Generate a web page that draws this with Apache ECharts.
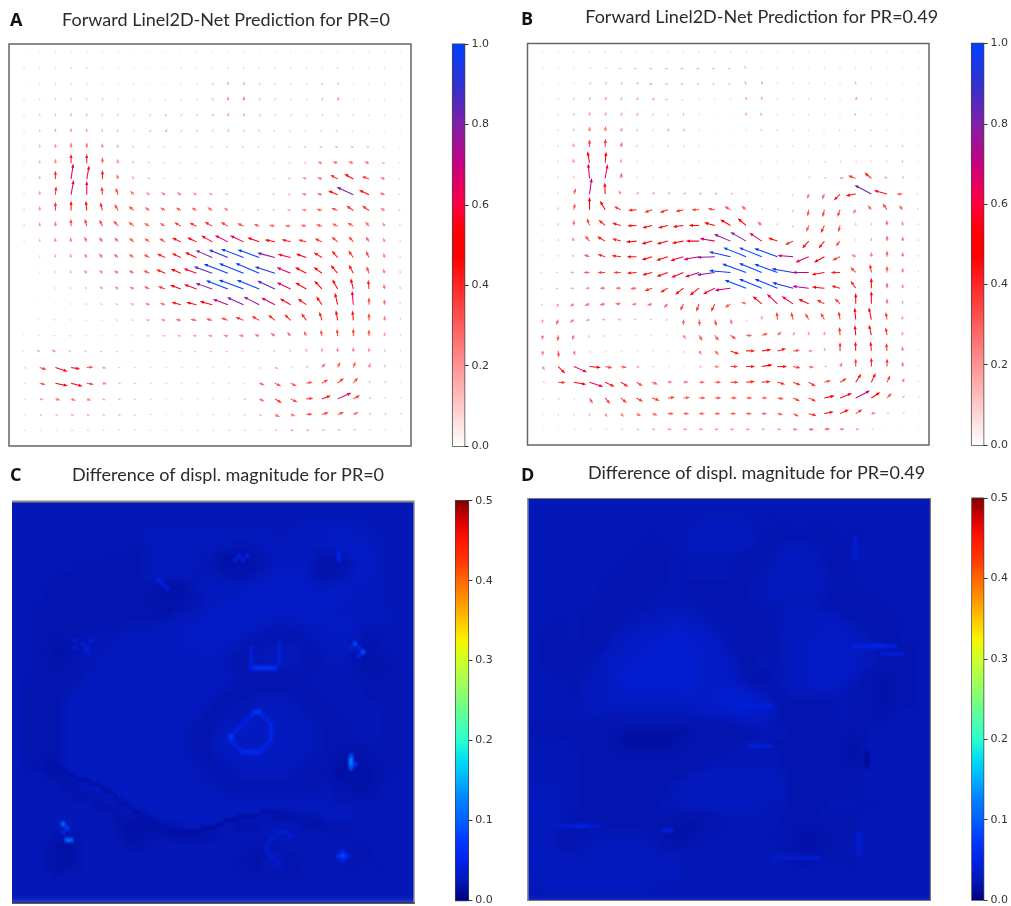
<!DOCTYPE html>
<html><head><meta charset="utf-8">
<style>html,body{margin:0;padding:0;background:#fff}#c{width:1011px;height:906px}</style>
<script src="https://cdn.jsdelivr.net/npm/echarts@6/dist/echarts.min.js"></script>
</head><body><div id="c"></div>
<script>
// ---------- data: arrow magnitude (percent of colour scale) and direction (degrees, 0 = right, 90 = up), 25 x 25 grid
const magA=[
[1,1,2,2,2,2,1,1,1,1,1,1,1,1,1,1,1,1,1,1,1,1,1,1,1],
[2,2,2,3,3,2,2,1,1,1,2,2,2,3,3,2,2,2,2,2,3,2,2,2,1],
[1,2,3,3,3,2,2,2,1,1,2,2,4,8,8,4,3,3,3,4,6,2,2,2,1],
[2,3,4,5,4,4,3,2,2,2,2,3,5,12,13,5,4,3,3,5,10,3,2,2,1],
[2,4,5,7,6,5,4,3,4,6,4,4,6,9,8,5,4,3,3,4,4,3,2,2,1],
[2,5,8,10,9,7,5,3,5,8,4,4,4,6,5,4,3,3,3,3,4,3,2,1,1],
[2,6,11,16,17,13,8,4,3,3,2,3,3,3,4,3,3,4,5,6,7,7,6,3,1],
[2,7,13,40,40,22,12,6,4,3,2,2,2,2,2,2,3,4,5,14,18,18,16,7,2],
[2,8,35,68,60,38,16,8,5,3,2,2,2,2,2,2,3,6,12,16,35,45,30,15,3],
[2,10,35,65,60,33,28,18,12,14,14,12,10,6,3,3,5,6,14,17,45,80,48,18,3],
[3,12,35,42,42,35,28,25,20,20,20,20,20,15,3,4,5,8,14,20,25,35,35,15,4],
[3,10,15,28,30,28,28,26,22,22,30,32,36,33,26,20,20,20,20,22,22,25,20,12,3],
[2,6,12,14,20,20,20,22,22,26,42,45,55,64,65,55,45,40,35,32,32,28,22,12,3],
[1,3,8,10,14,18,20,22,25,38,43,55,79,90,105,100,80,58,48,42,38,35,28,14,4],
[1,2,4,7,12,14,16,20,26,42,48,60,85,112,115,112,92,66,55,45,47,41,28,15,5],
[1,1,2,3,5,10,12,15,22,30,50,58,76,102,115,105,85,66,55,49,48,48,39,16,5],
[1,1,1,2,3,4,6,9,14,18,42,46,56,70,79,76,67,54,45,43,53,60,28,18,4],
[1,1,2,2,2,2,3,4,8,12,18,22,24,28,36,36,36,36,36,38,44,43,28,15,4],
[1,2,3,3,2,2,2,2,5,6,8,10,12,14,15,16,18,18,19,24,28,30,25,10,3],
[2,8,12,6,5,5,3,2,2,3,4,4,5,5,4,3,4,4,8,10,13,14,12,5,2],
[3,28,56,40,25,10,4,3,2,2,2,2,2,2,2,3,8,3,5,18,22,22,14,6,3],
[2,22,55,52,28,14,5,5,3,3,2,2,2,2,3,20,26,26,25,28,33,28,5,4,2],
[2,10,16,16,14,8,5,4,3,3,2,2,2,2,4,20,32,30,28,41,65,30,6,3,2],
[2,5,6,7,7,6,5,4,3,2,2,2,3,2,3,6,18,16,24,28,26,20,6,5,3],
[2,2,2,3,3,3,3,3,2,2,2,2,2,3,3,3,5,8,8,7,6,5,3,2,1]];
const angA=[
[90,90,90,90,90,90,90,90,90,90,90,90,90,90,90,90,90,90,90,90,90,90,90,90,90],
[90,90,90,90,90,90,90,90,90,90,90,90,90,90,90,90,90,90,90,90,90,90,90,90,90],
[90,90,90,90,90,90,90,90,90,90,90,70,70,85,70,70,70,70,70,70,70,70,70,90,90],
[90,90,90,90,90,90,90,90,70,70,70,70,70,85,80,70,70,70,70,70,70,70,90,90,90],
[90,90,90,90,95,100,100,80,50,60,60,60,60,75,70,60,60,60,60,70,70,90,90,90,90],
[90,90,90,90,95,100,110,80,45,50,60,60,70,70,60,100,120,120,130,130,140,140,140,90,90],
[90,90,90,90,90,95,105,120,130,140,140,140,140,140,140,140,140,150,150,150,150,150,150,150,150],
[90,90,90,90,90,90,100,120,135,140,150,150,150,150,150,150,150,150,150,160,160,160,160,160,150],
[90,90,90,82,80,90,105,120,135,145,150,150,150,150,150,150,150,160,155,160,150,150,160,160,160],
[90,90,85,80,90,95,110,130,145,150,150,150,150,150,150,150,160,165,165,165,157,155,155,160,160],
[90,90,90,90,95,105,120,140,145,150,150,150,145,145,150,150,160,170,165,165,160,145,145,150,150],
[90,90,90,92,105,115,130,140,150,150,150,155,150,150,155,160,170,175,170,165,155,150,130,120,110],
[90,90,95,100,115,125,130,140,145,150,155,155,150,153,155,160,168,165,165,155,140,130,120,110,100],
[90,90,95,100,120,130,140,145,150,155,155,155,156,158,159,160,165,165,160,148,130,125,115,105,100],
[90,90,100,110,130,135,145,150,155,157,157,160,160,159,158,157,162,157,152,143,130,118,110,110,100],
[90,90,110,120,130,135,145,150,155,160,160,160,161,159,160,158,155,155,150,133,119,104,95,100,100],
[90,90,120,140,150,155,160,160,165,165,165,167,165,160,156,153,153,150,145,125,103,95,90,95,100],
[90,120,150,160,170,170,170,170,170,170,170,170,165,160,157,150,140,135,125,107,100,95,90,90,90],
[120,150,160,170,170,170,170,170,170,170,170,170,170,170,170,160,145,130,115,100,95,90,90,90,90],
[150,150,150,160,160,170,170,170,170,170,170,170,170,170,160,150,140,110,90,90,90,90,90,90,90],
[340,342,342,350,5,350,350,0,0,0,0,0,0,0,0,340,340,20,30,50,65,70,70,80,90],
[345,345,348,345,350,350,350,350,0,0,0,0,0,0,340,340,335,335,10,30,40,50,60,60,70],
[345,345,345,340,340,340,340,340,340,0,0,0,0,0,340,335,330,335,5,20,24,28,30,40,60],
[340,340,340,340,340,340,340,340,0,0,0,0,0,0,340,340,335,345,5,18,22,25,30,40,50],
[0,0,0,0,0,0,0,0,0,0,0,0,0,0,0,0,0,0,5,10,15,20,30,40,50]];
const magB=[
[1,1,2,2,2,2,2,2,2,2,2,2,2,2,1,1,1,1,1,1,1,1,1,1,1],
[2,2,2,3,3,4,5,6,6,6,6,6,5,6,2,2,2,1,2,2,2,2,1,1,1],
[1,1,2,5,6,6,7,8,6,6,5,5,5,8,8,2,2,2,2,2,6,2,1,1,1],
[1,2,4,7,9,7,8,8,6,3,2,2,2,8,8,2,2,2,2,2,9,3,2,1,1],
[1,3,5,10,10,8,8,4,3,5,2,1,1,8,8,2,2,2,2,2,6,2,2,1,1],
[1,3,6,15,17,11,5,3,7,7,2,1,1,2,4,3,2,2,2,3,3,3,2,1,1],
[1,3,10,30,33,17,4,2,4,3,2,1,1,2,2,2,2,2,2,2,3,3,3,5,1],
[1,3,12,50,48,10,3,2,2,2,2,1,1,1,2,2,2,2,3,3,3,3,3,6,1],
[1,3,5,65,62,20,3,2,2,2,2,1,1,1,2,2,2,4,5,10,33,38,8,6,2],
[1,3,22,70,50,12,8,8,7,7,7,7,5,2,2,2,3,16,20,38,44,83,60,22,2],
[2,5,24,55,45,30,35,34,36,33,30,28,26,22,3,3,5,25,30,30,16,20,30,20,3],
[2,5,18,30,36,38,40,45,45,47,45,48,52,48,20,4,5,26,35,26,5,5,18,12,3],
[2,4,12,27,40,38,46,48,50,52,58,67,78,79,65,43,37,43,40,25,3,8,20,15,3],
[2,3,6,22,33,40,42,48,53,60,69,77,96,107,107,107,68,63,52,35,15,15,22,15,3],
[2,3,8,22,30,30,42,45,52,58,65,79,94,111,107,107,95,72,57,40,30,35,24,15,3],
[2,5,8,12,18,18,22,33,37,46,52,58,69,100,107,107,94,72,55,38,37,45,20,12,3],
[4,10,15,18,20,20,16,18,20,30,34,36,25,18,52,62,60,50,36,30,47,55,18,8,2],
[10,20,17,10,8,7,5,4,4,20,25,26,18,3,10,30,30,28,30,34,52,54,30,10,2],
[15,22,17,5,4,2,2,2,2,14,24,26,26,22,24,18,10,10,10,33,44,47,33,10,2],
[15,25,15,3,2,2,2,2,2,4,14,20,40,38,42,38,26,12,8,36,40,40,32,14,2],
[12,43,63,50,29,22,8,4,2,2,6,14,30,38,48,42,30,18,5,14,33,38,33,16,2],
[4,30,55,63,45,36,28,22,14,16,20,24,33,37,38,33,33,33,26,31,44,44,30,14,2],
[2,4,3,24,31,31,30,32,28,24,24,24,24,22,20,24,30,33,46,56,70,46,25,7,2],
[1,3,3,6,12,14,17,20,22,20,20,20,20,20,18,20,24,33,41,43,32,14,5,3,1],
[1,1,2,3,3,4,6,8,10,10,10,10,10,10,8,10,14,18,20,14,10,3,1,1,1]];
const angB=[
[90,90,90,90,90,90,90,90,90,90,90,90,90,90,90,90,90,90,90,90,90,90,90,90,90],
[90,90,90,45,30,180,180,180,180,180,180,180,180,120,90,90,90,90,90,90,90,90,90,90,90],
[90,90,80,45,45,45,40,170,170,170,170,170,170,110,85,90,90,90,90,90,95,90,90,90,90],
[90,90,90,70,65,60,50,30,160,170,90,90,90,90,90,90,90,90,90,90,70,90,90,90,90],
[90,90,90,85,75,65,60,50,60,90,90,90,90,90,110,90,90,90,90,90,110,110,90,90,90],
[90,90,95,90,85,70,60,60,70,65,90,90,90,90,110,110,110,110,110,110,110,110,110,100,90],
[90,90,100,90,88,75,60,60,70,70,90,90,90,90,110,110,110,110,110,110,110,100,100,100,90],
[90,90,100,100,85,80,70,60,60,70,90,90,90,90,110,110,110,110,60,60,60,100,100,100,90],
[90,90,90,95,80,80,60,40,40,40,30,30,30,30,60,60,60,60,30,10,160,140,150,60,90],
[90,90,70,82,92,120,30,30,30,25,20,20,20,60,70,70,250,255,245,225,190,152,165,180,170],
[90,90,80,90,120,155,185,200,200,193,180,170,150,140,60,60,260,260,255,250,235,130,125,130,120],
[90,90,90,110,140,165,182,195,195,188,180,165,150,140,140,90,250,250,245,255,90,90,95,95,90],
[90,90,110,130,150,165,185,195,195,190,180,170,157,150,146,160,205,228,232,230,90,90,90,90,90],
[90,90,130,160,160,172,180,197,198,197,190,182,167,158,158,160,175,203,208,205,150,90,90,90,90],
[180,180,180,180,180,180,185,195,200,202,198,188,175,160,158,160,170,180,190,180,135,100,90,90,90],
[200,200,190,180,180,180,185,200,210,218,217,207,188,159,158,158,165,173,175,165,125,90,90,90,90],
[230,250,215,200,190,180,190,195,225,245,250,245,215,160,140,137,146,155,152,135,90,90,90,95,90],
[270,250,220,200,185,180,180,180,200,270,275,285,290,300,90,95,105,120,120,100,95,102,100,100,90],
[270,265,250,240,220,200,180,180,200,300,300,305,325,355,15,40,60,90,90,95,95,103,100,100,90],
[275,275,285,300,320,340,0,0,300,300,300,315,340,0,8,15,5,0,80,90,92,95,95,95,90],
[300,315,337,355,350,350,350,0,0,0,350,355,0,0,10,0,350,350,0,60,90,90,90,90,90],
[0,357,350,342,335,330,330,340,10,5,0,0,0,5,5,345,340,330,15,30,57,65,65,70,80],
[300,300,300,300,310,320,330,340,5,5,0,0,0,0,0,350,335,335,12,22,27,33,45,50,60],
[290,280,280,280,300,315,330,345,0,0,0,0,0,0,0,350,335,345,12,25,32,10,30,30,30],
[0,0,0,0,0,0,0,0,0,0,0,0,0,0,0,0,0,0,5,5,5,0,0,0,0]];
// ---------- data: displacement difference in relative levels, 40 x 40 cells
const heatC=[
[5,5,5,5,5,5,5,5,5,5,5,5,5,5,5,5,5,5,5,5,5,5,5,5,5,5,5,5,5,5,5,5,5,5,5,5,5,5,5,5],
[5,5,5,5,5,5,5,5,5,5,5,5,5,5,5,5,5,5,5,5,5,5,5,5,5,5,5,5,5,5,5,5,5,5,5,5,5,5,5,5],
[5,5,5,5,5,5,5,5,5,5,5,5,5,5,5,5,5,5,5,5,5,5,5,5,5,5,5,5,5,6,6,6,6,6,6,5,5,5,5,5],
[5,5,5,5,5,5,5,5,5,5,5,5,5,6,6,6,6,6,6,6,6,6,6,6,6,6,5,5,6,6,6,6,7,7,6,6,5,5,5,5],
[5,5,5,5,5,5,5,5,5,5,5,5,4,5,6,6,6,6,6,6,5,5,4,4,5,6,6,6,6,6,6,6,7,7,7,6,6,5,5,5],
[5,5,5,5,5,5,5,5,5,4,4,4,4,5,6,6,6,6,5,5,4,3,3,4,4,5,6,6,6,6,4,4,4,5,7,7,6,5,5,5],
[5,5,5,5,5,5,4,4,4,4,4,4,4,5,6,6,6,6,5,5,4,3,4,3,4,5,6,6,6,6,4,3,4,4,7,7,6,5,5,5],
[5,5,5,5,4,4,4,4,4,4,4,4,4,5,6,5,5,5,5,5,5,4,4,4,5,6,7,7,7,6,4,4,4,5,7,6,6,5,5,5],
[5,5,5,4,4,4,4,4,4,4,4,4,4,4,4,3,3,4,6,6,6,6,6,6,7,7,7,7,7,7,6,6,7,7,6,6,6,5,5,5],
[5,5,5,4,4,4,4,4,4,4,4,4,4,4,3,4,3,4,4,6,6,6,6,7,7,7,7,7,7,7,7,7,7,6,6,6,6,5,5,5],
[5,5,4,4,4,4,4,4,4,4,4,4,4,4,4,3,4,4,5,6,6,7,7,7,7,7,7,7,7,7,7,7,6,6,6,6,6,5,5,5],
[5,5,4,4,4,4,4,4,4,4,4,4,4,4,4,4,5,5,6,7,7,7,7,7,7,7,6,6,7,7,7,7,6,6,6,6,6,6,5,5],
[5,5,4,4,4,4,4,4,4,4,4,5,5,5,5,6,6,6,7,7,7,7,7,7,6,5,5,5,5,6,6,6,7,7,6,5,5,5,5,5],
[5,5,4,4,4,4,4,5,5,5,5,6,6,6,6,6,6,7,7,7,7,7,6,5,5,4,4,4,4,5,6,6,6,6,5,4,4,5,5,5],
[5,5,4,4,3,4,4,5,5,5,6,6,6,6,6,6,6,6,6,7,6,6,5,4,4,5,5,5,5,4,5,6,6,6,4,4,4,5,5,5],
[5,5,4,4,3,4,4,5,5,6,6,6,6,6,6,6,6,6,6,6,6,5,4,4,5,6,6,6,5,4,4,5,6,5,4,3,4,4,5,5],
[5,5,4,4,4,4,4,5,5,6,6,6,6,6,6,6,6,6,6,6,6,5,4,4,5,5,5,5,5,4,4,5,5,5,4,4,3,4,4,5],
[5,4,4,4,4,4,4,5,6,6,6,6,6,6,6,6,6,6,6,6,6,6,5,4,4,4,4,4,4,4,5,5,5,5,4,4,4,4,4,5],
[5,4,4,4,4,4,5,6,6,6,6,6,6,6,6,6,6,6,6,6,6,5,4,4,4,4,4,4,4,4,5,5,5,5,5,4,4,4,4,5],
[5,4,4,4,4,5,6,6,6,6,6,6,6,6,6,6,6,6,6,6,5,4,4,4,5,5,5,5,4,4,4,5,5,5,5,4,4,4,4,5],
[5,4,4,4,4,6,6,6,6,6,6,6,6,6,6,6,6,6,6,5,4,4,5,5,6,6,6,6,5,4,4,4,5,5,5,5,5,4,4,5],
[5,4,4,4,4,6,6,6,6,6,6,6,6,6,6,6,6,6,5,4,4,5,5,6,6,6,6,6,6,5,4,4,4,5,5,5,5,4,4,5],
[5,4,4,4,4,6,6,6,6,6,6,6,6,6,6,6,6,5,4,4,5,6,6,6,6,6,6,6,6,6,5,4,4,4,5,5,5,4,4,5],
[5,4,4,4,4,6,6,6,6,6,6,6,6,6,6,6,6,5,4,4,6,6,6,6,6,6,6,6,6,6,5,4,4,4,5,5,5,4,4,5],
[5,4,4,4,4,6,6,6,6,6,6,6,6,6,6,6,6,5,4,4,6,6,6,6,6,6,6,6,6,6,5,4,4,4,4,4,4,4,4,5],
[5,4,4,4,4,6,6,6,6,6,6,6,6,6,6,6,6,5,4,4,5,6,6,6,6,6,6,6,6,5,4,4,4,3,3,4,4,4,4,5],
[5,4,4,3,4,6,6,6,6,6,6,6,6,6,6,6,6,6,5,4,4,5,5,6,6,6,6,6,5,4,4,4,3,3,3,3,4,4,4,5],
[5,5,5,4,3,4,6,6,6,6,6,6,6,6,6,6,6,6,5,5,4,4,5,5,5,5,5,5,4,4,4,4,3,3,4,3,4,4,5,5],
[5,5,5,5,5,3,4,6,6,6,6,6,6,6,6,6,6,6,6,5,5,4,4,4,4,4,4,4,4,4,4,5,4,4,3,3,4,5,5,5],
[5,5,5,5,5,5,3,4,4,6,6,6,6,6,6,6,6,6,6,6,6,5,5,5,5,5,5,5,5,5,5,5,4,4,4,4,4,5,5,5],
[5,5,5,5,5,5,5,5,3,4,4,6,6,6,6,6,6,6,6,6,6,6,6,6,6,6,6,6,6,6,6,6,5,5,5,5,5,5,5,5],
[5,5,5,5,5,5,5,5,5,5,3,4,4,4,6,6,6,6,6,6,6,6,6,6,6,4,3,3,4,4,4,6,6,6,5,5,5,5,5,5],
[5,5,5,5,5,5,5,5,5,5,4,3,3,3,3,4,4,6,6,6,6,5,3,3,3,5,5,5,5,3,3,4,4,4,5,5,5,5,5,5],
[5,5,5,5,4,4,4,5,5,5,4,3,3,4,4,4,3,3,3,3,4,5,5,5,5,5,5,5,5,5,5,5,4,4,5,5,5,5,5,5],
[5,5,5,4,3,3,4,5,5,5,5,4,4,4,5,5,5,5,5,5,5,5,5,4,4,4,4,5,5,5,5,5,5,5,4,4,5,5,5,5],
[5,5,5,3,4,3,4,5,5,5,5,5,5,5,5,5,5,5,5,5,5,5,4,4,3,5,5,4,4,5,5,5,5,5,4,4,5,5,5,5],
[5,5,5,4,3,3,4,5,5,5,5,5,5,5,5,5,5,5,5,5,5,5,4,4,3,5,5,4,4,5,5,5,5,4,4,5,4,5,5,5],
[5,5,5,5,4,5,5,5,5,5,5,5,5,5,5,5,5,5,5,5,5,5,5,4,4,4,4,4,4,5,5,5,5,5,5,5,5,5,5,5],
[5,5,5,5,5,5,5,5,5,5,5,5,5,5,5,5,5,5,5,5,5,5,5,5,5,5,5,5,5,5,5,5,5,5,5,5,5,5,5,5],
[5,5,5,5,5,5,5,5,5,5,5,5,5,5,5,5,5,5,5,5,5,5,5,5,5,5,5,5,5,5,5,5,5,5,5,5,5,5,5,5]];
const heatD=[
[5,5,5,5,5,5,5,5,5,5,5,5,5,5,5,5,5,5,5,5,5,5,5,5,5,5,5,5,5,5,5,5,5,5,5,5,5,5,5,5],
[5,5,5,5,5,5,5,5,5,5,5,5,5,5,5,5,5,5,5,5,5,5,5,5,4,5,5,5,5,5,5,5,5,5,5,5,5,5,5,5],
[5,5,5,5,5,5,5,5,5,5,5,5,5,5,5,5,5,6,6,6,6,6,5,5,5,4,5,5,4,4,5,5,5,5,5,5,5,5,5,5],
[5,5,5,5,5,5,5,5,5,5,5,5,4,5,5,5,6,6,6,6,6,6,5,4,4,4,4,4,4,4,4,5,4,4,5,5,5,5,5,5],
[5,5,5,5,5,5,5,5,5,5,5,4,4,4,5,5,6,6,6,6,6,6,5,4,4,5,5,5,5,5,4,4,5,5,5,5,5,5,5,5],
[5,5,5,5,5,5,5,5,5,5,4,4,4,4,4,5,5,5,5,5,5,4,4,4,5,6,6,6,5,4,4,4,5,5,5,5,5,5,5,5],
[5,5,5,5,5,5,5,5,5,4,4,4,4,4,5,4,5,5,5,5,4,4,4,4,5,6,6,6,6,5,4,4,4,5,5,5,5,5,5,5],
[5,5,5,5,5,5,5,5,4,4,4,4,4,4,5,4,5,5,5,5,4,4,4,5,6,6,6,6,6,5,4,4,4,5,5,5,5,5,5,5],
[5,5,5,5,5,5,5,4,4,4,4,4,4,4,5,4,4,4,4,4,4,4,5,5,6,6,6,6,6,5,5,4,4,5,5,5,5,5,5,5],
[5,5,5,5,5,5,5,4,4,4,4,4,4,5,5,4,4,4,4,4,4,4,5,5,6,6,6,6,6,5,4,4,4,4,4,5,5,5,5,5],
[5,5,5,5,5,5,4,4,4,4,4,4,5,5,5,5,5,4,4,4,4,4,4,5,5,5,5,5,5,4,4,4,4,4,4,4,5,5,5,5],
[5,5,5,5,5,4,4,4,4,4,5,5,5,6,6,6,5,5,4,4,4,4,4,4,4,5,6,6,6,6,6,4,4,4,4,4,4,5,5,5],
[5,5,4,4,5,4,4,4,4,5,5,6,6,6,7,7,6,6,5,4,4,4,4,4,5,6,6,6,6,6,6,6,5,4,4,4,4,4,5,5],
[5,4,4,4,5,4,4,4,5,6,6,7,7,7,8,8,7,7,6,5,4,4,4,4,4,5,6,6,6,6,7,6,6,5,4,4,4,5,5,5],
[5,4,4,4,4,4,4,4,6,6,7,7,8,8,8,8,7,7,7,5,4,4,4,4,4,5,6,6,7,7,7,7,6,6,5,4,4,4,4,5],
[5,4,4,4,4,4,4,6,6,7,7,8,8,8,8,8,8,7,7,6,5,4,4,5,4,5,6,6,7,7,7,7,6,6,5,4,4,4,4,5],
[5,4,4,4,4,4,5,6,7,7,8,8,8,8,8,8,8,7,7,7,6,4,4,5,4,5,6,6,7,7,7,7,7,6,5,4,4,4,4,5],
[5,5,4,4,4,5,5,6,7,8,8,8,8,8,8,8,8,7,7,7,6,4,4,3,5,5,6,6,7,7,7,7,6,4,4,4,4,4,4,5],
[5,5,5,5,4,5,6,6,7,7,8,8,8,8,8,8,8,7,7,7,7,6,4,4,4,5,6,6,7,7,7,6,5,4,4,3,4,4,4,5],
[5,5,5,5,4,5,6,6,7,7,7,7,7,7,7,7,7,7,7,8,8,8,7,6,4,4,5,5,5,5,5,5,4,4,4,3,4,4,4,5],
[5,5,5,5,5,5,6,6,6,6,6,6,6,6,6,6,7,7,7,8,8,9,8,7,5,4,4,4,4,4,4,5,4,4,4,3,4,4,4,5],
[5,5,5,5,5,5,6,5,5,5,5,5,5,5,5,5,5,6,6,6,7,8,7,7,6,4,4,4,4,4,4,5,4,4,4,4,4,5,5,5],
[4,4,4,4,4,4,4,4,4,4,4,4,4,4,4,4,4,4,4,4,4,5,5,5,5,4,4,4,4,4,4,4,4,4,4,4,5,5,5,5],
[4,4,4,4,4,4,4,4,4,3,3,3,3,3,3,3,4,4,4,4,4,4,4,5,5,5,4,4,4,4,4,4,4,4,5,5,5,5,5,5],
[5,5,5,5,4,4,4,4,4,3,3,3,3,3,3,4,4,4,4,4,4,5,5,4,4,4,4,4,4,4,4,4,3,4,5,5,5,5,5,5],
[5,5,5,5,5,4,4,4,4,4,4,4,4,4,4,4,4,4,4,4,5,5,5,5,5,4,4,4,4,4,4,4,3,4,5,5,5,5,5,5],
[5,5,5,5,5,4,4,4,4,4,4,4,4,4,4,4,4,4,5,5,5,5,5,5,5,4,4,4,4,4,4,4,4,4,5,5,5,5,5,5],
[5,5,5,5,5,4,4,4,4,4,4,4,4,4,4,4,5,6,6,6,6,6,6,6,6,5,4,4,4,4,4,4,4,5,5,5,5,5,5,5],
[5,5,5,5,5,4,4,4,4,4,4,4,4,4,5,5,6,6,6,6,6,6,6,6,6,5,4,4,4,4,4,4,4,4,5,5,5,5,5,5],
[6,6,6,5,5,4,4,4,4,4,4,4,4,4,5,6,6,6,6,6,6,6,6,6,6,5,4,4,4,4,4,4,4,5,5,5,5,5,5,5],
[6,6,6,5,5,4,4,4,4,4,4,4,4,5,5,6,6,6,6,6,6,6,6,5,5,5,4,4,4,4,5,5,5,4,4,5,5,5,5,5],
[6,6,6,5,4,4,4,4,4,4,4,4,4,4,4,4,4,4,4,5,5,5,5,5,5,4,4,4,4,5,4,4,4,5,5,5,5,5,5,5],
[6,6,5,5,4,4,4,4,4,4,4,4,4,4,4,3,3,4,4,4,5,5,5,5,5,4,4,4,4,4,4,4,4,5,5,5,5,5,5,5],
[6,6,5,4,4,4,5,5,5,5,5,5,4,4,3,3,4,4,4,5,5,5,5,5,4,4,4,3,3,4,4,4,4,5,5,5,5,5,5,5],
[6,6,5,4,4,5,5,6,6,6,6,5,5,4,4,4,4,5,5,5,5,5,5,5,5,4,4,3,3,4,4,4,5,5,5,5,5,5,5,5],
[6,6,6,5,5,5,6,6,6,6,6,6,6,5,5,5,5,5,5,5,5,5,5,5,5,5,4,4,4,4,4,4,5,5,5,5,5,5,5,5],
[6,6,6,6,6,6,6,6,6,6,6,6,6,6,6,5,5,5,5,5,5,5,5,5,5,5,4,4,4,5,5,5,4,5,5,5,5,5,5,5],
[6,6,6,6,6,6,6,6,6,6,6,6,6,6,6,5,5,5,5,5,5,5,5,5,5,5,5,5,5,5,5,5,5,5,5,5,5,5,5,5],
[5,6,6,6,6,6,6,6,6,6,6,6,5,5,5,5,5,5,5,5,5,5,5,5,5,5,5,5,5,5,5,5,5,5,5,5,5,5,5,5],
[5,5,5,5,5,5,5,5,5,5,5,5,5,5,5,5,5,5,5,5,5,5,5,5,5,5,5,5,5,5,5,5,5,5,5,5,5,5,5,5]];
// ---------- data: single image pixels on the 100 x 100 raster: [column, row, value x 1000]
const peaksC=[[60,52,70],[61,52,70],[62,53,52],[63,54,52],[64,55,52],[64,56,52],[64,57,52],[64,58,52],[64,59,50],[63,60,50],[62,61,52],[61,62,55],[60,62,58],[59,62,58],[58,62,58],[57,62,58],[56,61,50],[55,60,52],[54,59,62],[54,58,75],[55,57,48],[56,56,48],[57,55,48],[58,54,48],[59,53,52],
[60,41,68],[61,41,68],[62,41,68],[63,41,68],[64,41,68],[65,41,60],[59,41,50],[59,36,40],[59,37,40],[59,38,40],[59,39,40],[59,40,42],[66,35,40],[66,36,40],[66,37,40],[66,38,40],[66,39,40],[66,40,42],
[85,35,85],[87,37,90],[86,36,50],[84,36,45],[86,38,50],[84,63,85],[84,64,125],[84,65,125],[85,65,65],[84,66,85],[12,80,105],[13,81,75],[13,84,105],[14,84,105],[12,82,50],[82,87,55],[81,88,68],[82,88,85],[83,88,55],[82,89,55],
[15,34,40],[17,35,40],[18,36,40],[19,34,40],[18,37,40],[15,36,40],[56,13,46],[57,14,42],[58,13,46],[55,14,40],[81,12,46],[81,13,50],[81,14,45],[36,19,50],[37,20,42],[38,21,45],
[65,83,38],[66,82,38],[67,82,38],[68,82,38],[69,83,38],[64,84,38],[63,85,37],[63,86,37],[63,87,37],[64,88,37],[65,89,37],[66,90,37]];
// dark valley line across the lower part of panel C: [column, row, value x 1000]
const valleyC=[[9,65,17],[10,65,17],[11,66,17],[12,67,17],[13,67,17],[14,68,17],[15,68,17],[16,69,17],[17,69,17],[18,69,17],[19,70,17],[20,70,17],[21,70,17],[22,71,17],[23,72,17],[24,72,17],[25,73,17],[26,74,17],[27,75,17],[28,75,17],[29,76,17],[30,77,17],[31,77,17],[32,78,17],[33,79,17],[34,79,17],[35,80,17],[36,80,17],[37,81,17],[38,81,17],[39,82,15],[40,82,15],[41,82,15],[42,82,15],[43,82,15],[44,82,15],[45,82,15],[46,82,15],[47,81,15],[48,81,15],[49,81,15],[50,81,15],[51,80,15],[52,80,15],[53,79,15],[54,79,15],[55,79,15],[56,78,17],[57,78,17],[58,78,17],[59,78,17],[60,78,17],[61,78,17],[62,77,18],[63,77,18],[64,77,18],[65,77,18],[66,77,18],[67,78,18],[68,78,18],[69,78,18],[70,78,20],[71,79,20],[72,79,20],[73,79,20]];
const peaksD=[[81,36,44],[82,36,44],[83,36,44],[84,36,48],[85,36,48],[86,36,52],[87,36,52],[88,36,52],[89,36,48],[90,36,44],[91,36,40],[88,38,38],[89,38,38],[90,38,38],[91,38,38],[92,38,38],[93,38,36],
[81,9,38],[81,10,38],[81,11,38],[81,12,38],[81,13,38],[81,14,36],[84,63,10],[84,64,10],[84,65,10],[84,66,12],[82,83,38],[82,84,38],[82,85,38],[82,86,38],[82,87,38],[82,88,36],
[61,89,36],[62,89,36],[63,89,36],[64,89,36],[65,89,36],[66,89,36],[67,89,36],[68,89,36],[69,89,36],[70,89,36],[71,89,36],[72,89,36],[6,81,36],[7,81,36],[8,81,36],[9,81,36],[10,81,36],[11,81,42],[12,81,46],[13,81,46],[14,81,42],[15,81,36],[16,81,36],[17,81,36],
[54,51,42],[55,51,42],[56,51,42],[57,51,42],[58,51,42],[59,51,42],[60,51,42],[55,61,42],[56,61,46],[57,61,42],[58,61,38],[59,61,42],[60,61,42],[33,82,42],[34,82,42],[35,82,42]];
// ---------- tick labels and text
const titles=['Forward Linel2D-Net Prediction for PR=0','Forward Linel2D-Net Prediction for PR=0.49','Difference of displ. magnitude for PR=0','Difference of displ. magnitude for PR=0.49'];
const letters=['A','B','C','D'];
// ---------- colour maps (style only)
const quiverStops=[[0,[255,255,255]],[0.47,[255,0,0]],[0.53,[255,0,0]],[0.6,[255,0,64]],[0.7,[200,0,128]],[0.8,[128,32,168]],[0.9,[48,48,208]],[1,[0,64,255]]];
const jetColors=['#00007f','#0418b8','#0022e8','#0038ff','#0060ff','#0080ff','#00b0ff','#00dcf4','#29ffce','#52ffa8','#7dff7a','#a8ff52','#ceff29','#f8f500','#ffc400','#ff9400','#ff6800','#ff3600','#ff1600','#d80000','#7f0000'];
function quiverColor(t){t=Math.max(0,Math.min(1,t));
 if(t<0.47)t=0.47*Math.pow(t/0.47,0.6);
 for(let i=1;i<quiverStops.length;i++){const a=quiverStops[i-1],b=quiverStops[i];
  if(t<=b[0]){const f=(t-a[0])/(b[0]-a[0]);return 'rgb('+[0,1,2].map(k=>Math.round(a[1][k]+(b[1][k]-a[1][k])*f)).join(',')+')';}}
 return 'rgb(0,64,255)';}
const ARROW_UNITS=1.47, SHAFT=1.05;
function arrowItem(params,api){
 const col=api.value(0),row=api.value(1),m=api.value(2)/100,ang=api.value(3)*Math.PI/180;
 const tail=api.coord([col,row]),tip0=api.coord([col+m*ARROW_UNITS*Math.cos(ang),row-m*ARROW_UNITS*Math.sin(ang)]);
 const dx=tip0[0]-tail[0],dy=tip0[1]-tail[1],L0=Math.hypot(dx,dy)||1,ux=dx/L0,uy=dy/L0,px=-uy,py=ux;
 const L=L0<10?L0+2.5*(1-L0/10):L0,tip=[tail[0]+ux*L,tail[1]+uy*L];
 const s=Math.min(1,L/5), hl=4.2*s, w=SHAFT/2, hw=Math.max(1.6*s,w);
 const bx=tip[0]-ux*hl,by=tip[1]-uy*hl;
 return {type:'polygon',silent:true,shape:{points:[[tail[0]+px*w,tail[1]+py*w],[bx+px*w,by+py*w],[bx+px*hw,by+py*hw],tip,[bx-px*hw,by-py*hw],[bx-px*w,by-py*w],[tail[0]-px*w,tail[1]-py*w]]},style:{fill:quiverColor(m)}};
}
function quiverData(mag,ang){const d=[];mag.forEach((r,i)=>r.forEach((m,j)=>d.push([j,i,m,ang[i][j]])));return d;}
function heatData(rows){const d=[];rows.forEach((r,i)=>r.forEach((v,j)=>d.push([j,i,v*4+5])));return d;}
const range=n=>Array.from({length:n},(_,i)=>i);

const grid=[],xAxis=[],yAxis=[],series=[],graphic=[];
function addGrid(box,border,zlevel,bg){grid.push({left:box[0],top:box[1],width:box[2]-box[0],height:box[3]-box[1],show:!!(border||bg),borderColor:border||'transparent',borderWidth:border?1.5:0,backgroundColor:bg||'transparent',containLabel:false,z:2,zlevel:zlevel||0});return grid.length-1;}
function hiddenValueAxes(g){xAxis.push({gridIndex:g,type:'value',min:0,max:1,show:false});yAxis.push({gridIndex:g,type:'value',min:0,max:1,show:false});}
function addQuiver(box,mag,ang){const g=addGrid(box,'#666');
 xAxis.push({gridIndex:g,type:'value',min:-0.96,max:24.68,show:false});
 yAxis.push({gridIndex:g,type:'value',min:-0.6,max:25.0,inverse:true,show:false});
 series.push({type:'custom',xAxisIndex:g,yAxisIndex:g,coordinateSystem:'cartesian2d',data:quiverData(mag,ang),renderItem:arrowItem,encode:{x:0,y:1},silent:true,clip:true,progressive:0,animation:false});}
const heatIdx=[];
function addFrame(b,pad){
 const x0=b[0],y0=b[1],x1=b[2],y1=b[3];
 [[x0-pad,y0-pad,x1-x0+2*pad,pad],[x0-pad,y1,x1-x0+2*pad,pad],[x0-pad,y0,pad,y1-y0],[x1,y0,pad,y1-y0]].forEach(r=>graphic.push({type:'rect',silent:true,z:0,shape:{x:r[0],y:r[1],width:r[2],height:r[3]},style:{fill:'#fff'}}));
}
function addHeat(box,cells,rows,peaks){
 // backing colour under the smoothed layer, reaching a little past the panel; the white frame hides the spill
 const pad=10,back=addGrid([box[0]-pad,box[1]-pad,box[2]+pad,box[3]+pad],null,-2,jetColors[1]);
 hiddenValueAxes(back);
 const g=addGrid(cells,null,-2);
 xAxis.push({gridIndex:g,type:'category',data:range(40),show:false});
 yAxis.push({gridIndex:g,type:'category',data:range(40),inverse:true,show:false});
 heatIdx.push(series.length);
 series.push({type:'heatmap',xAxisIndex:g,yAxisIndex:g,data:heatData(rows),silent:true,progressive:0,animation:false,zlevel:-2,z:3});
 const f=addGrid(cells,null,-1);
 xAxis.push({gridIndex:f,type:'category',data:range(100),show:false});
 yAxis.push({gridIndex:f,type:'category',data:range(100),inverse:true,show:false});
 heatIdx.push(series.length);
 series.push({type:'heatmap',xAxisIndex:f,yAxisIndex:f,data:peaks,silent:true,progressive:0,animation:false,zlevel:-1});
 addFrame(box,26);
}
function addColorbar(box,maxV,interval,colors,digits){const g=addGrid(box,'#444');
 xAxis.push({gridIndex:g,type:'category',data:['bar'],show:false});
 yAxis.push({gridIndex:g,type:'value',min:0,max:maxV,interval:interval,position:'right',splitLine:{show:false},axisLine:{show:false},
  axisTick:{show:true,length:4,lineStyle:{color:'#333',width:1}},axisLabel:{show:true,margin:7,color:'#333',fontFamily:'DejaVu Sans',fontSize:11,formatter:v=>v.toFixed(digits)}});
 series.push({type:'bar',xAxisIndex:g,yAxisIndex:g,data:[maxV],barWidth:'100%',silent:true,animation:false,
  itemStyle:{color:{type:'linear',x:0,y:1,x2:0,y2:0,colorStops:colors}}});}
const quiverBarStops=quiverStops.map(s=>({offset:s[0],color:'rgb('+s[1].join(',')+')'}));
const jetBarStops=jetColors.map((c,i)=>({offset:i/(jetColors.length-1),color:c}));

addQuiver([9,44,411,446],magA,angA);
addQuiver([527.5,43.5,929,445],magB,angB);
addColorbar([452.7,44.3,464.5,446],1,0.2,quiverBarStops,1);
addColorbar([971.7,43.5,983.5,445],1,0.2,quiverBarStops,1);
addHeat([12,502,414,903],[13,502,413,902],heatC,peaksC.concat(valleyC));
addHeat([528.3,499,930,900],[529,500,929,900],heatD,peaksD);
// panel C edges: grey top, pale right, dark bottom; panel D: thin grey box
[[12,500.5,403,2,'#8a8a8a'],[413.5,501,1.5,402,'#b0b0b0'],[12,902.5,403,1.2,'#222']].forEach(r=>graphic.push({type:'rect',silent:true,z:1,shape:{x:r[0],y:r[1],width:r[2],height:r[3]},style:{fill:r[4]}}));
graphic.push({type:'rect',silent:true,z:1,shape:{x:527.8,y:498.5,width:402.6,height:402},style:{fill:'transparent',stroke:'#777',lineWidth:1.2}});
addColorbar([455.7,500.7,468.3,902.5],0.5,0.1,jetBarStops,1);
addColorbar([972,498.3,984.3,900],0.5,0.1,jetBarStops,1);

const titleSpec=[[226,22,23],[761.7,19,22],[228,477,478],[756.5,475,478]];
const titleItems=[];
titles.forEach((t,i)=>{const s=titleSpec[i];
 titleItems.push({text:t,left:s[0],top:s[1]-11,padding:0,textAlign:'center',textStyle:{fontFamily:'Lato',fontSize:18,fontWeight:'normal',color:'#2b2b2b'}});
 titleItems.push({text:letters[i],left:i%2?521:10,top:s[2]-11,padding:0,textStyle:{fontFamily:'Open Sans',fontSize:18,fontWeight:'bold',color:'#111'}});
});

const chart=echarts.init(document.getElementById('c'),null,{renderer:'canvas',width:1011,height:906});
chart.setOption({animation:false,backgroundColor:'#fff',title:titleItems,grid,xAxis,yAxis,series,graphic,
 visualMap:[{type:'continuous',show:false,min:0,max:500,seriesIndex:heatIdx,inRange:{color:jetColors}}]});
// soften the coarse raster and its pixels the way the resampled source image is
const blurLayer=(z,px)=>{const el=document.querySelector('#c canvas[data-zr-dom-id="zr_'+z+'"]');if(el)el.style.filter='blur('+px+'px)';};
blurLayer(-2,4);blurLayer(-1,0.8);blurLayer(0,0.35);
</script></body></html>
